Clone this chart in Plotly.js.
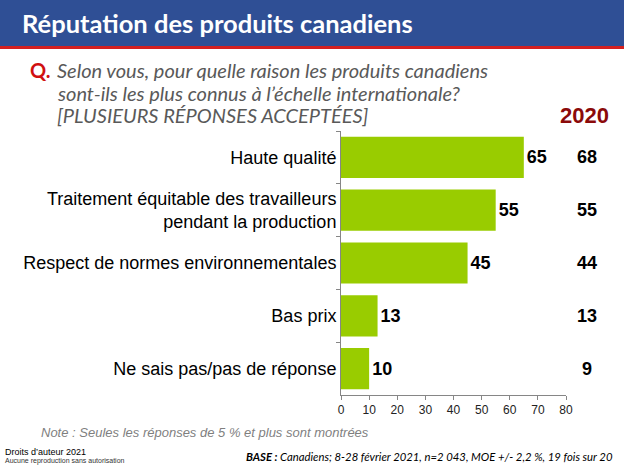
<!DOCTYPE html>
<html>
<head>
<meta charset="utf-8">
<script src="https://cdn.plot.ly/plotly-3.0.1.min.js"></script>
<style>
html,body{margin:0;padding:0;background:#fff;}
#chart{width:624px;height:468px;}
</style>
</head>
<body>
<div id="chart"></div>
<script>
// ---- data ----
var categories = [
  "Haute qualité",
  "Traitement équitable des travailleurs<br>pendant la production",
  "Respect de normes environnementales",
  "Bas prix",
  "Ne sais pas/pas de réponse"
];
var values2021 = [65, 55, 45, 13, 10];
var values2020 = [68, 55, 44, 13, 9];
var xTicks = [0, 10, 20, 30, 40, 50, 60, 70, 80];

// ---- layout helpers (pixel -> paper) ----
var W = 624, H = 468;
var L = 341, R = 566, T = 131, B = 395;
function px(x){ return (x - L) / (R - L); }
function py(y){ return (B - y) / (B - T); }

var trace = {
  type: 'bar',
  orientation: 'h',
  y: categories,
  x: values2021,
  marker: {color: '#99CC00'},
  text: values2021.map(String),
  textposition: 'outside',
  texttemplate: '<b>%{text}</b>',
  textfont: {family: 'Liberation Sans, Arial, sans-serif', size: 18, color: '#000'},
  cliponaxis: false,
  hoverinfo: 'none'
};

var annotations = [];
// banner title
annotations.push({xref:'paper', yref:'paper', x:px(20), y:py(23), xanchor:'left', yanchor:'middle',
  text:'<b>Réputation des produits canadiens</b>', showarrow:false,
  font:{family:'Lato, DejaVu Sans, sans-serif', size:25.5, color:'#ffffff'}});
// question
annotations.push({xref:'paper', yref:'paper', x:px(28), y:py(70), xanchor:'left', yanchor:'middle',
  text:'<b>Q.</b>', showarrow:false,
  font:{family:'Lato, DejaVu Sans, sans-serif', size:20, color:'#D01010'}});
var qLines = ["Selon vous, pour quelle raison les produits canadiens",
              "sont-ils les plus connus à l’échelle internationale?",
              "[PLUSIEURS RÉPONSES ACCEPTÉES]"];
var qY = [70, 93, 115];
for (var i = 0; i < qLines.length; i++) {
  annotations.push({xref:'paper', yref:'paper', x:px(55), y:py(qY[i]), xanchor:'left', yanchor:'middle',
    text:'<i>' + qLines[i] + '</i>', showarrow:false,
    font:{family:'Lato, DejaVu Sans, sans-serif', size:20, color:'#595959'}});
}
// 2020 header
annotations.push({xref:'paper', yref:'paper', x:px(584), y:py(115), xanchor:'center', yanchor:'middle',
  text:'<b>2020</b>', showarrow:false,
  font:{family:'Liberation Sans Narrow, Liberation Sans, Arial, sans-serif', size:22, color:'#8B0A0A'}});
// 2020 values
for (var j = 0; j < categories.length; j++) {
  annotations.push({xref:'paper', yref:'y', x:px(587), y:categories[j], xanchor:'center', yanchor:'middle',
    text:'<b>' + values2020[j] + '</b>', showarrow:false,
    font:{family:'Liberation Sans, Arial, sans-serif', size:18, color:'#000'}});
}
// note
annotations.push({xref:'paper', yref:'paper', x:px(39), y:py(432), xanchor:'left', yanchor:'middle',
  text:'<i>Note : Seules les réponses de 5 % et plus sont montrées</i>', showarrow:false,
  font:{family:'Liberation Sans, Arial, sans-serif', size:13, color:'#7F7F7F'}});
// copyright
annotations.push({xref:'paper', yref:'paper', x:px(3), y:py(452), xanchor:'left', yanchor:'middle',
  text:'Droits d’auteur 2021', showarrow:false,
  font:{family:'Liberation Sans, Arial, sans-serif', size:9, color:'#000'}});
annotations.push({xref:'paper', yref:'paper', x:px(3), y:py(461), xanchor:'left', yanchor:'middle',
  text:'Aucune reproduction sans autorisation', showarrow:false,
  font:{family:'Liberation Sans, Arial, sans-serif', size:7, color:'#333'}});
// base
annotations.push({xref:'paper', yref:'paper', x:px(615), y:py(456), xanchor:'right', yanchor:'middle',
  text:'<b><i>BASE :</i></b><i> Canadiens; 8-28 février 2021, n=2 043, MOE +/- 2,2 %, 19 fois sur 20</i>', showarrow:false,
  font:{family:'Lato, DejaVu Sans, sans-serif', size:11.3, color:'#000'}});

var shapes = [
  {type:'rect', xref:'paper', yref:'paper', x0:px(0), x1:px(W), y0:py(0), y1:py(46),
   fillcolor:'#2F4F95', line:{width:0}, layer:'below'},
  {type:'rect', xref:'paper', yref:'paper', x0:px(0), x1:px(W), y0:py(46), y1:py(49),
   fillcolor:'#D42020', line:{width:0}, layer:'below'}
];

var layout = {
  width: W, height: H,
  margin: {l: L, r: W - R, t: T, b: H - B, pad: 0},
  paper_bgcolor: '#ffffff',
  plot_bgcolor: '#ffffff',
  showlegend: false,
  bargap: 0.22,
  xaxis: {
    range: [0, 80], tickvals: xTicks, ticktext: xTicks.map(String),
    showgrid: false, zeroline: false,
    showline: true, linecolor: '#868686', linewidth: 1,
    ticks: 'outside', ticklen: 4, tickcolor: '#868686',
    tickfont: {family: 'Liberation Sans, Arial, sans-serif', size: 12, color: '#222'},
    fixedrange: true
  },
  yaxis: {
    type: 'category', autorange: 'reversed',
    showgrid: false, zeroline: false,
    showline: true, linecolor: '#868686', linewidth: 1,
    ticks: 'outside', ticklen: 4, tickcolor: '#868686', tickson: 'boundaries',
    tickfont: {family: 'Liberation Sans, Arial, sans-serif', size: 18, color: '#000'},
    fixedrange: true
  },
  annotations: annotations,
  shapes: shapes
};

Plotly.newPlot('chart', [trace], layout, {staticPlot: true, displayModeBar: false});
</script>
</body>
</html>
